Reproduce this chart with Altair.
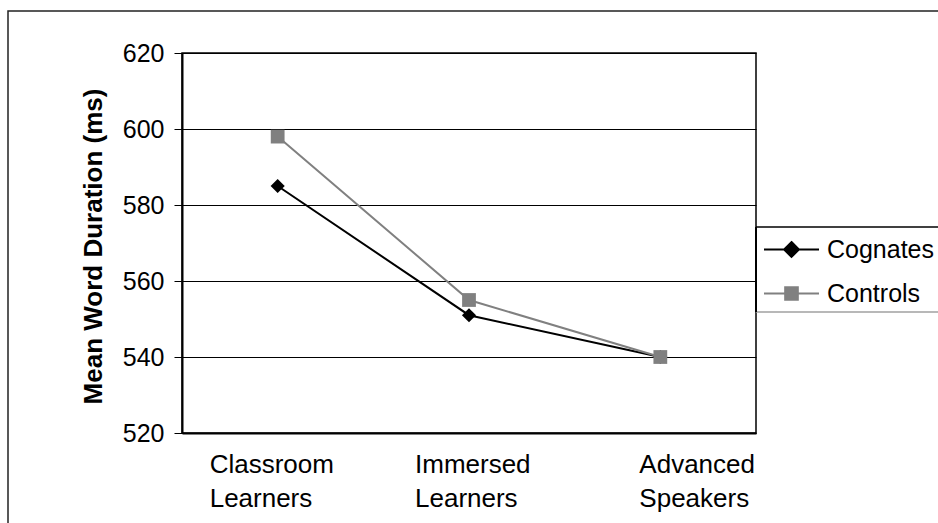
import altair as alt
import pandas as pd

# Mean word duration (ms) by learner group
categories = ["Classroom Learners", "Immersed Learners", "Advanced Speakers"]
series = ["Cognates", "Controls"]
cognates = [585, 551, 540]
controls = [598, 555, 540]
y_ticks = [520, 540, 560, 580, 600, 620]

FONT = "Liberation Sans"
W, H = 574, 380
BLACK = "#000000"
GREY = "#808080"

rows = []
for name, vals in zip(series, [cognates, controls]):
    for grp, v in zip(categories, vals):
        rows.append({"group": grp, "series": name, "duration": v})
df = pd.DataFrame(rows)
cat_df = pd.DataFrame({"group": categories})

x_enc = alt.X(
    "group:N",
    sort=categories,
    title=None,
    axis=alt.Axis(labels=False, ticks=False, grid=False, domain=True,
                  domainColor=BLACK, domainWidth=2),
)
y_enc = alt.Y(
    "duration:Q",
    scale=alt.Scale(domain=[520, 620], nice=False, zero=False),
    axis=alt.Axis(
        values=y_ticks, title="Mean Word Duration (ms)",
        grid=True, gridColor=BLACK, gridWidth=1,
        domainColor=BLACK, domainWidth=2,
        tickColor=BLACK, tickSize=8, tickWidth=1,
        labelFont=FONT, labelFontSize=25, labelColor=BLACK, labelPadding=10,
        titleFont=FONT, titleFontSize=26, titleFontWeight="bold", titleColor=BLACK,
        titleAngle=270, titleAlign="center", titleBaseline="alphabetic",
        titleX=-81, titleY=193,
    ),
)

base = alt.Chart(df).encode(x=x_enc, y=y_enc)

line_cog = base.transform_filter(alt.datum.series == "Cognates").mark_line(color=BLACK, strokeWidth=2)
line_con = base.transform_filter(alt.datum.series == "Controls").mark_line(color=GREY, strokeWidth=2)
pts_cog = base.transform_filter(alt.datum.series == "Cognates").mark_point(
    shape="diamond", filled=True, size=200, color=BLACK, opacity=1)
pts_con = base.transform_filter(alt.datum.series == "Controls").mark_point(
    shape="square", filled=True, size=190, color=GREY, opacity=1)

# two-line category labels, left-aligned blocks under each group
label_shift = [-68, -54, -21]
label_layers = []
for grp, shift in zip(categories, label_shift):
    label_layers.append(
        alt.Chart(cat_df).transform_filter(alt.datum.group == grp).mark_text(
            align="left", baseline="alphabetic", dx=shift, lineBreak=" ", lineHeight=34,
            font=FONT, fontSize=26, color=BLACK,
        ).encode(x=x_enc, y=alt.value(H + 40), text="group:N")
    )

one = pd.DataFrame({"k": [0]})
# outer chart frame
frame = alt.Chart(one).mark_rect(fill="white", fillOpacity=0, stroke="#222222", strokeWidth=1.5).encode(
    x=alt.value(-174), x2=alt.value(W + 400), y=alt.value(-42), y2=alt.value(H + 300))
# legend box
legend_box = alt.Chart(one).mark_rect(fill="white", stroke=None).encode(
    x=alt.value(W), x2=alt.value(W + 400), y=alt.value(174), y2=alt.value(259))
legend_top = alt.Chart(one).mark_rule(color=BLACK, strokeWidth=1.5).encode(
    x=alt.value(W), x2=alt.value(W + 400), y=alt.value(174))
legend_bottom = alt.Chart(one).mark_rule(color="#a0a0a0", strokeWidth=1.5).encode(
    x=alt.value(W), x2=alt.value(W + 400), y=alt.value(259))
legend_left = alt.Chart(one).mark_rule(color=BLACK, strokeWidth=2).encode(
    x=alt.value(W), y=alt.value(174), y2=alt.value(259))

COG_PATH = "M-1,0H1M0,-0.27L0.27,0L0,0.27L-0.27,0Z"
CON_PATH = "M-1,0H1M-0.23,-0.23H0.23V0.23H-0.23Z"
leg = alt.Legend(
    title=None, orient="none", legendX=581, legendY=168, padding=0,
    symbolSize=3025, symbolStrokeWidth=2, symbolOpacity=1,
    labelFont=FONT, labelFontSize=25, labelColor=BLACK, labelOffset=7,
    rowPadding=2,
)
legend_layer = alt.Chart(pd.DataFrame({"series": series})).transform_filter("false").mark_point(
    filled=False, strokeWidth=2, opacity=1
).encode(
    shape=alt.Shape("series:N", scale=alt.Scale(domain=series, range=[COG_PATH, CON_PATH]), legend=leg),
    fill=alt.Fill("series:N", scale=alt.Scale(domain=series, range=[BLACK, GREY]), legend=leg),
    stroke=alt.Stroke("series:N", scale=alt.Scale(domain=series, range=[BLACK, GREY]), legend=leg),
)

chart = alt.layer(
    frame, line_cog, line_con, pts_cog, pts_con, *label_layers,
    legend_box, legend_top, legend_bottom, legend_left, legend_layer,
).properties(
    width=W, height=H,
    padding={"left": 182, "top": 53, "right": 182, "bottom": 90},
    autosize=alt.AutoSizeParams(type="none"),
    background="white",
).configure_view(stroke=BLACK, strokeWidth=1.5)

chart.save("out.html", embed_options={"renderer": "svg", "actions": False})
